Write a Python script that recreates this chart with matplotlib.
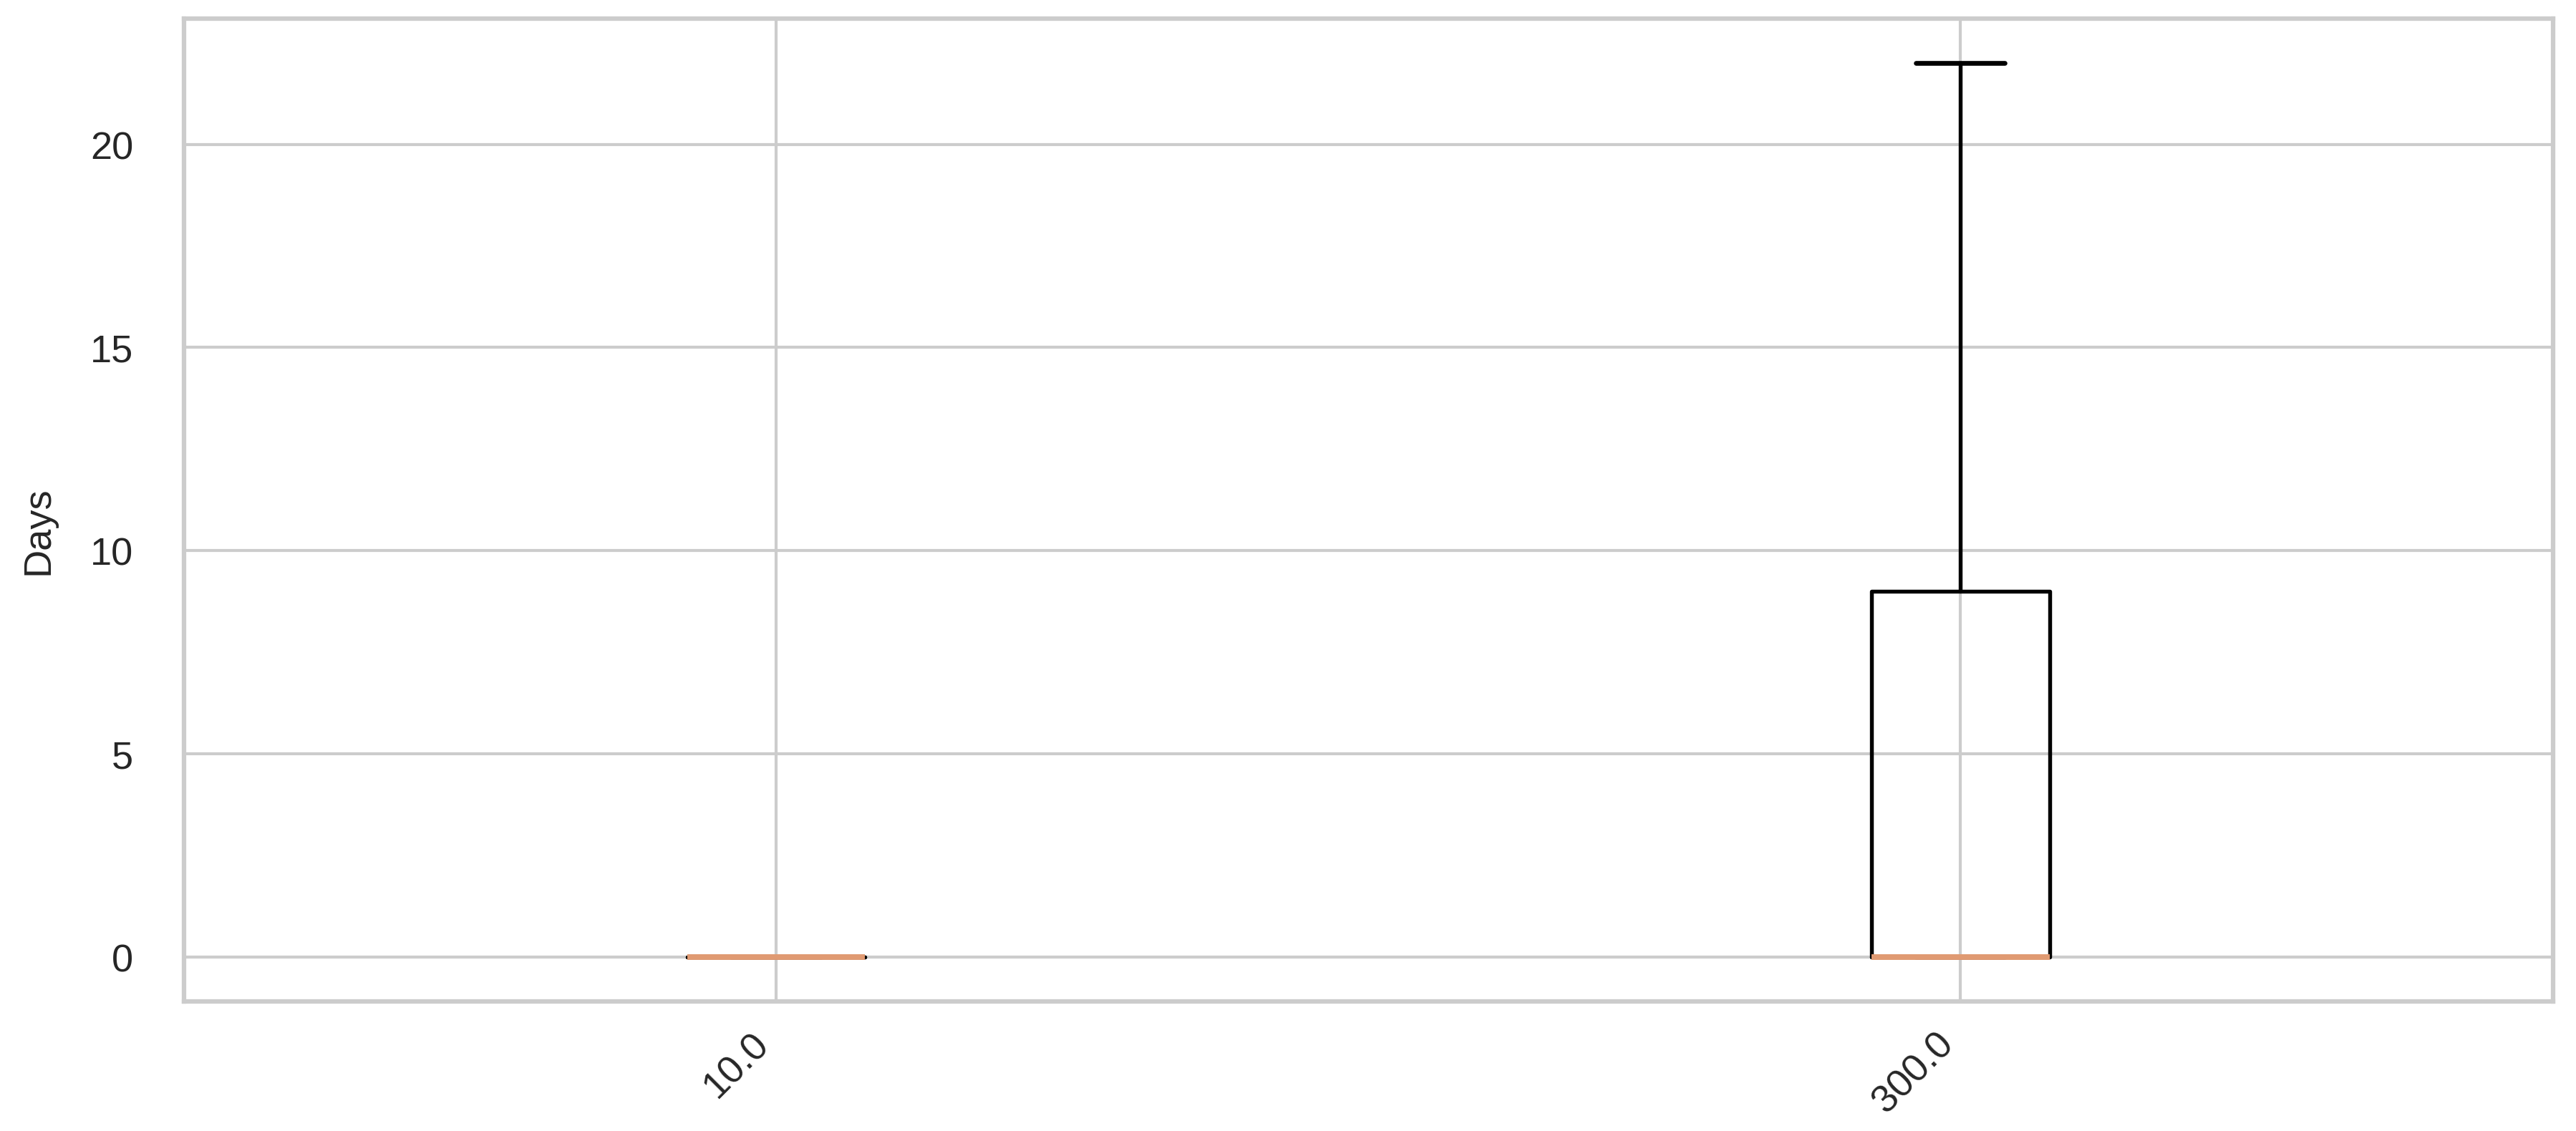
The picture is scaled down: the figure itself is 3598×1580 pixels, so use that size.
import numpy as np
import matplotlib
matplotlib.use('Agg')
import matplotlib.pyplot as plt
import seaborn as sns

sns.set_theme(style='whitegrid')
plt.rcParams['font.family'] = ['Liberation Sans', 'DejaVu Sans']

# summary stats per group
groups = ['10.0', '300.0']
q1 = [0, 0]
med = [0, 0]
q3 = [0, 9]
whislo = [0, 0]
whishi = [0, 22]

stats = []
for i, g in enumerate(groups):
    stats.append({'label': g, 'q1': q1[i], 'med': med[i], 'q3': q3[i],
                  'whislo': whislo[i], 'whishi': whishi[i], 'fliers': []})

fig = plt.figure(figsize=(3598 / 300, 1581 / 300), dpi=300)
ax = fig.add_axes([0.0714, 0.1145, 0.9196, 0.8685])

ax.bxp(stats, showfliers=False,
       boxprops=dict(color='black', linewidth=1.3),
       whiskerprops=dict(color='black', linewidth=1.3),
       capprops=dict(color='black', linewidth=1.6),
       medianprops=dict(color='#E09A72', linewidth=1.9, zorder=4))

ax.set_ylabel('Days', family=['Liberation Sans Narrow', 'Liberation Sans', 'DejaVu Sans'],
              fontsize=13)
ax.yaxis.set_label_coords(-0.054, 0.48)
ax.set_yticks([0, 5, 10, 15, 20])
ax.tick_params(axis='y', labelsize=13, pad=17, length=0)
ax.tick_params(axis='x', labelsize=13, pad=8, length=0)
plt.setp(ax.get_xticklabels(), rotation=45, ha='right')

for s in ax.spines.values():
    s.set_color('#cccccc')
    s.set_linewidth(1.5)

fig.savefig('out.png', dpi=300)
